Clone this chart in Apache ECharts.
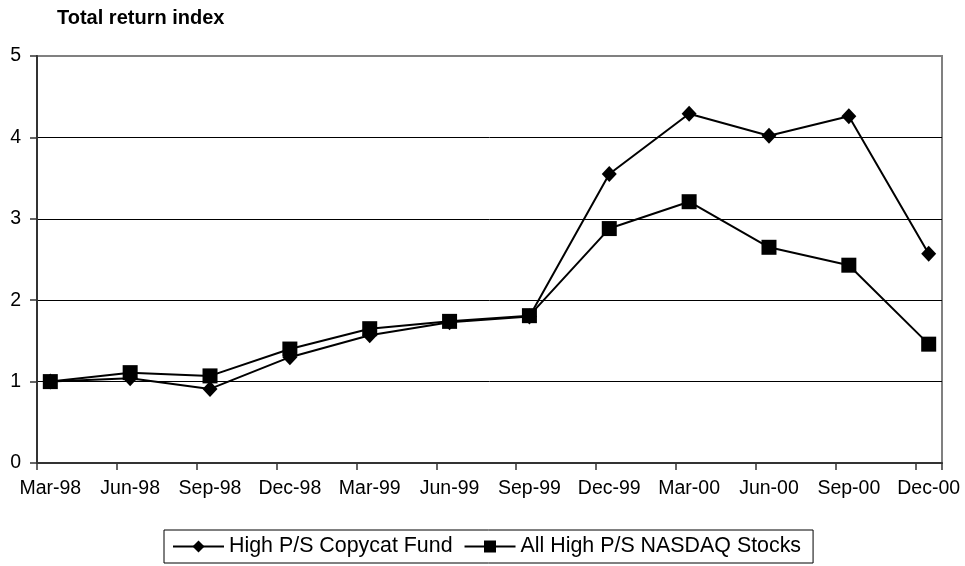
<!DOCTYPE html>
<html>
<head>
<meta charset="utf-8">
<script src="https://cdn.jsdelivr.net/npm/echarts@6/dist/echarts.min.js"></script>
<style>
  html, body { margin: 0; padding: 0; background: #fff; }
  #chart { width: 965px; height: 566px; }
</style>
</head>
<body>
<div id="chart"></div>
<script>
// Monthly date axis, Mar-98 through Dec-00; only quarter ends are labelled.
const months = [
  'Mar-98', 'Apr-98', 'May-98', 'Jun-98', 'Jul-98', 'Aug-98', 'Sep-98', 'Oct-98', 'Nov-98', 'Dec-98',
  'Jan-99', 'Feb-99', 'Mar-99', 'Apr-99', 'May-99', 'Jun-99', 'Jul-99', 'Aug-99', 'Sep-99', 'Oct-99',
  'Nov-99', 'Dec-99', 'Jan-00', 'Feb-00', 'Mar-00', 'Apr-00', 'May-00', 'Jun-00', 'Jul-00', 'Aug-00',
  'Sep-00', 'Oct-00', 'Nov-00', 'Dec-00'
];

// Quarterly observation dates
const quarters = ['Mar-98', 'Jun-98', 'Sep-98', 'Dec-98', 'Mar-99', 'Jun-99',
                  'Sep-99', 'Dec-99', 'Mar-00', 'Jun-00', 'Sep-00', 'Dec-00'];

// Total return index values
const copycatFund = [1.00, 1.04, 0.91, 1.30, 1.57, 1.73, 1.80, 3.55, 4.29, 4.02, 4.26, 2.57];
const nasdaqHighPS = [1.00, 1.11, 1.07, 1.40, 1.65, 1.74, 1.81, 2.88, 3.21, 2.65, 2.43, 1.46];

const yTicks = [0, 1, 2, 3, 4, 5];

const seriesNames = ['High P/S Copycat Fund', 'All High P/S NASDAQ Stocks'];

const FONT = '"Liberation Sans", Arial, sans-serif';

const pairs = (vals) => quarters.map((q, i) => [q, vals[i]]);

const chart = echarts.init(document.getElementById('chart'), null, { renderer: 'canvas' });

chart.setOption({
  animation: false,
  backgroundColor: '#ffffff',
  textStyle: { fontFamily: FONT, color: '#000' },
  title: {
    text: 'Total return index',
    left: 57,
    top: 8,
    padding: 0,
    textStyle: { fontFamily: FONT, fontSize: 20, fontWeight: 'bold', color: '#000' }
  },
  grid: {
    left: 37,
    right: 23,
    top: 56,
    bottom: 103,
    show: true,
    borderColor: '#808080',
    borderWidth: 2,
    backgroundColor: '#ffffff'
  },
  xAxis: {
    type: 'category',
    data: months,
    boundaryGap: true,
    axisLine: { show: true, lineStyle: { color: '#333', width: 2 } },
    axisTick: { show: true, interval: 2, length: 7, lineStyle: { color: '#333', width: 1.5 } },
    axisLabel: {
      interval: 2,
      margin: 16,
      color: '#000',
      fontFamily: FONT,
      fontSize: 19.5
    },
    splitLine: { show: false }
  },
  yAxis: {
    type: 'value',
    min: yTicks[0],
    max: yTicks[yTicks.length - 1],
    interval: 1,
    axisLine: { show: true, lineStyle: { color: '#333', width: 2 } },
    axisTick: { show: true, length: 7, lineStyle: { color: '#333', width: 1.5 } },
    axisLabel: {
      margin: 16,
      color: '#000',
      fontFamily: FONT,
      fontSize: 19.5
    },
    splitLine: {
      show: true,
      lineStyle: { color: ['#000', '#000', '#000', '#000', '#000', '#808080'], width: 1 }
    }
  },
  legend: {
    data: seriesNames,
    left: 164,
    top: 530,
    orient: 'horizontal',
    itemWidth: 51,
    itemHeight: 15,
    itemGap: 11,
    padding: [6, 12, 6, 8],
    borderColor: '#000',
    borderWidth: 1,
    textStyle: { fontFamily: FONT, fontSize: 21.4, color: '#000' }
  },
  series: [
    {
      name: seriesNames[0],
      type: 'line',
      data: pairs(copycatFund),
      symbol: 'diamond',
      symbolSize: [15, 16],
      lineStyle: { color: '#000', width: 2 },
      itemStyle: { color: '#000' },
      z: 3
    },
    {
      name: seriesNames[1],
      type: 'line',
      data: pairs(nasdaqHighPS),
      symbol: 'rect',
      symbolSize: 15,
      lineStyle: { color: '#000', width: 2 },
      itemStyle: { color: '#000' },
      z: 4
    }
  ]
});
</script>
</body>
</html>
